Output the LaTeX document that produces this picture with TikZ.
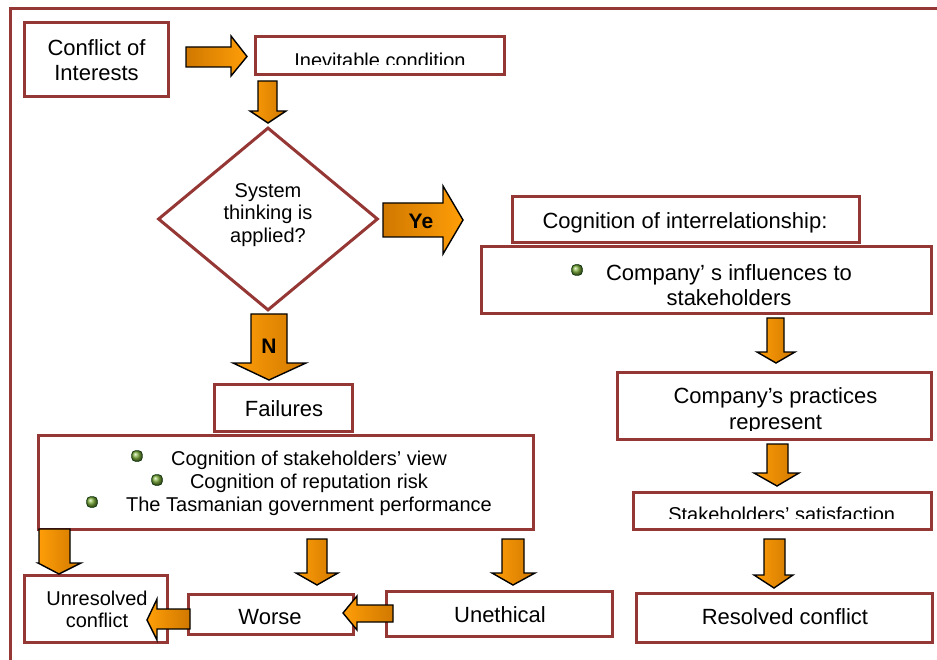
\documentclass[tikz,border=0pt]{standalone}
\usepackage{fontspec}
\setmainfont{Liberation Sans}
\usetikzlibrary{shapes.geometric}
\definecolor{boxred}{RGB}{149,55,53}
\definecolor{orLight}{RGB}{255,158,8}
\definecolor{orDark}{RGB}{208,120,0}
\definecolor{bulgreen}{RGB}{130,180,64}
\newcommand{\fz}[2]{\fontsize{#1}{#2}\selectfont}
% vertical block arrow: bodyL bodyR headL headR tipx top headstart tip
\newcommand{\BlkV}[8]{\draw[blk] (#1,#6) -- (#2,#6) -- (#2,#7) -- (#4,#7) -- (#5,#8) -- (#3,#7) -- (#1,#7) -- cycle;}
% horizontal block arrow: bodyT bodyB headT headB tipy start headstart tip style
\newcommand{\BlkH}[9]{\draw[#9] (#6,#1) -- (#7,#1) -- (#7,#3) -- (#8,#5) -- (#7,#4) -- (#7,#2) -- (#6,#2) -- cycle;}
\begin{document}
\begin{tikzpicture}[x=1pt,y=-1pt,
  box/.style={draw=boxred, line width=3pt, fill=white, inner sep=0pt},
  txt/.style={inner sep=0pt, text=black},
  blk/.style={draw=black, line width=1.4pt, line join=miter, left color=orLight, right color=orDark},
  blkR/.style={draw=black, line width=1.4pt, line join=miter, left color=orDark, right color=orLight},
  bul/.style={rectangle, rounded corners=3.5pt, inner sep=0pt, minimum size=10.5pt, draw=black!60!green!40!black, line width=0.6pt, shade, ball color=bulgreen}]
\useasboundingbox (0,0) rectangle (937,660);
% outer frame
\coordinate (fbl) at (10,662);
\coordinate (ftl) at (10,8.5);
\coordinate (ftr) at (940,8.5);
\draw[boxred, line width=3pt] (fbl) -- (ftl) -- (ftr);

% boxes
\node[box, minimum width=144pt, minimum height=74pt, align=center, font=\fz{22}{25}] (coi) at (96.5,60) {Conflict of\\Interests};
\node[box, minimum width=249pt, minimum height=38pt] (inev) at (380,55.5) {};
\node[diamond, draw=boxred, line width=3pt, fill=white, inner sep=0pt, minimum width=220pt, minimum height=183pt] (q) at (268,219) {};
\node[txt, align=center, font=\fz{20}{22.75}] (qt) at (268,215) {System\\thinking is\\applied?};

\node[box, minimum width=347pt, minimum height=46pt] (inter) at (686,219.5) {};
\node[txt, anchor=base, font=\fz{22}{26}] (intert) at (685,228.5) {Cognition of interrelationship:};
\node[box, minimum width=450pt, minimum height=67pt] (infl) at (706.5,280) {};
\node[txt, align=center, font=\fz{22}{25.5}] (inflt) at (729,285.3) {Company’ s influences to\\stakeholders};
\node[bul] (b0) at (577,270) {};

\node[box, minimum width=314pt, minimum height=67pt] (prac) at (774.5,406) {};
\node[box, minimum width=298pt, minimum height=37pt] (satis) at (782.5,511) {};
\node[box, minimum width=296pt, minimum height=49pt] (resol) at (784.5,618) {};
\node[txt, anchor=base, font=\fz{22}{26}] (resolt) at (785,624.5) {Resolved conflict};

\node[box, minimum width=138pt, minimum height=47pt] (fail) at (283.5,408) {};
\node[txt, anchor=base, font=\fz{22}{26}] (failt) at (284,416) {Failures};
\node[box, minimum width=495pt, minimum height=94pt] (big) at (286,482.5) {};
\node[txt, align=center, font=\fz{20}{22.75}] (bigt) at (309,483.5) {Cognition of stakeholders’ view\\Cognition of reputation risk\\The Tasmanian government performance};
\node[bul] (b1) at (137,456) {};
\node[bul] (b2) at (157,480) {};
\node[bul] (b3) at (92,502) {};

\node[box, minimum width=143pt, minimum height=67pt] (unres) at (96,609) {};
\node[txt, align=center, font=\fz{20}{21.3}] (unrest) at (97,609.4) {Unresolved\\conflict};
\node[box, minimum width=165pt, minimum height=40pt] (worse) at (271,614.5) {};
\node[txt, anchor=base, font=\fz{22}{26}] (worset) at (270,624.5) {Worse};
\node[box, minimum width=226pt, minimum height=45pt] (uneth) at (499.5,614) {};
\node[txt, anchor=base, font=\fz{22}{26}] (unetht) at (500,622.5) {Unethical};

% clipped texts
\begin{scope}
\clip (256,37) rectangle (504,65);
\node[txt, anchor=base, font=\fz{20}{24}] (inevt) at (380,67.3) {Inevitable condition};
\end{scope}
\begin{scope}
\clip (618,373) rectangle (931,430.5);
\node[txt, align=center, font=\fz{22}{26}] (pract) at (775.5,410.8) {Company’s practices\\represent};
\end{scope}
\begin{scope}
\clip (634,493) rectangle (931,518);
\node[txt, anchor=base, font=\fz{20}{24}] (satist) at (781.7,521.3) {Stakeholders’ satisfaction};
\end{scope}

% block arrows
\BlkH{47}{67}{36}{76}{56.5}{186}{231}{247}{blkR}
\BlkV{258}{277}{250}{286}{268}{81}{111}{123}
\BlkH{203}{237}{186}{254}{220}{383}{443}{463}{blkR}
\node[txt, anchor=base, font=\bfseries\fz{21}{24}] (ye) at (421,228.3) {Ye};
\BlkV{251}{287}{233}{306}{269}{314}{363}{380}
\node[txt, anchor=base, font=\bfseries\fz{21}{24}] (no) at (269,353.3) {N};
\BlkV{767}{784}{757}{795}{776}{318}{352}{363}
\BlkV{767}{788}{754}{799}{777}{444}{473}{486}
\BlkV{764}{785}{754}{793}{774}{539}{575}{588}
\BlkV{39}{70}{38}{81}{59}{529}{563}{574}
\BlkV{307}{327}{296}{338}{317}{539}{573}{585}
\BlkV{502}{524}{492}{535}{513}{539}{573}{585}
\BlkH{609}{629}{599}{640}{620}{190}{157}{147}{blk}
\BlkH{605}{622}{596}{630}{613}{393}{357}{343}{blk}
\end{tikzpicture}
\end{document}
